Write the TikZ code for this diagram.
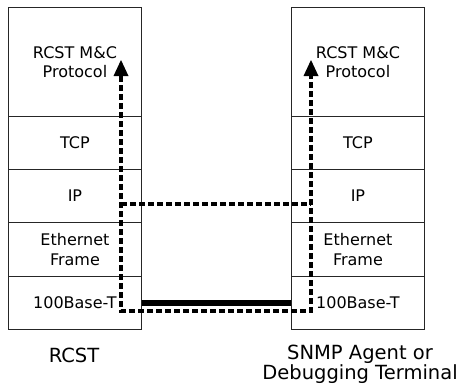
\documentclass[tikz,border=0pt]{standalone}
\usepackage{fontspec}
\setmainfont{DejaVu Sans}
\usetikzlibrary{arrows.meta}
\begin{document}
\begin{tikzpicture}[x=1pt,y=-1pt,
  layer/.style={draw=black!85,line width=0.9pt,minimum width=133pt,inner sep=0pt,
    align=center,anchor=north west,font=\fontsize{16}{19.5}\selectfont},
  flowtip/.tip={Triangle[length=16pt,width=15pt,line width=0pt]},
  flow/.style={dash pattern=on 6pt off 3pt,line width=3.4pt},
  link/.style={line width=5.5pt},
  caption/.style={font=\fontsize{19.5}{20}\selectfont,align=center}]
\useasboundingbox (0,0) rectangle (462,388);
% left stack
\node[layer,minimum height=109pt] (L1) at (8,7) {RCST M\&C\\Protocol};
\node[layer,minimum height=53pt] (L2) at (8,116) {TCP};
\node[layer,minimum height=53pt] (L3) at (8,169) {IP};
\node[layer,minimum height=54pt] (L4) at (8,222) {Ethernet\\Frame};
\node[layer,minimum height=53pt] (L5) at (8,276) {100Base-T};
% right stack
\node[layer,minimum height=109pt] (R1) at (291,7) {RCST M\&C\\Protocol};
\node[layer,minimum height=53pt] (R2) at (291,116) {TCP};
\node[layer,minimum height=53pt] (R3) at (291,169) {IP};
\node[layer,minimum height=54pt] (R4) at (291,222) {Ethernet\\Frame};
\node[layer,minimum height=53pt] (R5) at (291,276) {100Base-T};
% physical link
\draw[link] (L5.east) -- (R5.west);
% data flow
\coordinate (ltip) at (121,60);
\coordinate (lcorner) at (121,311);
\coordinate (rcorner) at (311,311);
\coordinate (rtip) at (311,60);
\coordinate (lmid) at (121,204);
\coordinate (rmid) at (311,204);
\draw[flowtip-flowtip,flow] (ltip) -- (lcorner) -- (rcorner) -- (rtip);
\draw[flow] (lmid) -- (rmid);
% captions
\node[caption,anchor=base] (lcap) at (74,362) {RCST};
\node[caption] (rcap) at (360,364) {SNMP Agent or\\Debugging Terminal};
\end{tikzpicture}
\end{document}
